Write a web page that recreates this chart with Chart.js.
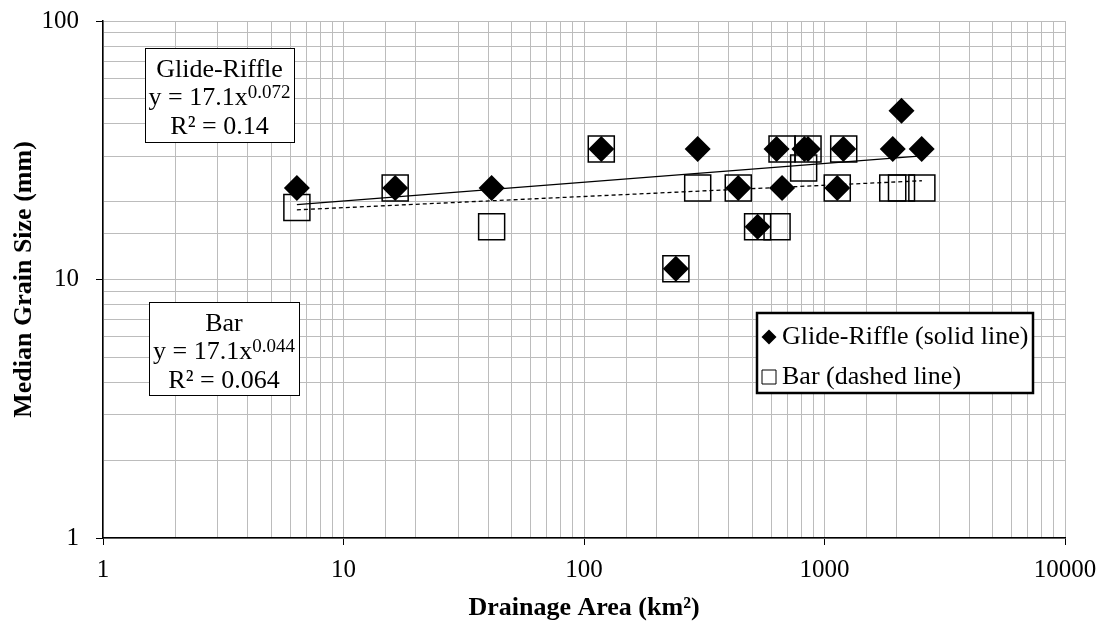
<!DOCTYPE html>
<html>
<head>
<meta charset="utf-8">
<script src="https://cdn.jsdelivr.net/npm/chart.js@4.4.1/dist/chart.umd.min.js"></script>
<style>
  body { margin: 0; background: #fff; }
  #wrap { width: 1110px; height: 621px; }
</style>
</head>
<body>
<div id="wrap"><canvas id="grafico-d50" width="1110" height="621"></canvas></div>
<script>
// Área de drenagem (km²) e D50 (mm) por tipo de unidade
const glideArea = [6.4, 16.4, 41.3, 118, 241, 297, 438, 527, 632, 666, 825, 854, 1130, 1198, 1922, 2090, 2536];
const glideD50  = [22.6, 22.6, 22.6, 32, 11, 32, 22.6, 16, 32, 22.6, 32, 32, 22.6, 32, 32, 45, 32];
const barArea   = [6.4, 16.4, 41.3, 118, 241, 297, 438, 527, 635, 666, 819, 854, 1130, 1202, 1922, 2090, 2540];
const barD50    = [19, 22.6, 16, 32, 11, 22.6, 22.6, 16, 16, 32, 27, 32, 22.6, 32, 22.6, 22.6, 22.6];

// linhas de tendência (extremos)
const fitArea  = [6.4, 2540];
const glideFit = [19.5, 30.1];
const barFit   = [18.6, 24.1];

// equações mostradas nas caixas
const glideEq = { nome: "Glide-Riffle", coef: "17.1", exp: "0.072", r2: "0.14" };
const barEq   = { nome: "Bar", coef: "17.1", exp: "0.044", r2: "0.064" };

const xTicks = [1, 10, 100, 1000, 10000];
const yTicks = [1, 10, 100];

const FONTE = "'Liberation Serif', 'Times New Roman', serif";

const pares = (xs, ys) => xs.map((x, i) => ({ x, y: ys[i] }));
const decada = (v, lista) => lista.some(t => Math.abs(t - v) < 1e-6 * t);

function caixaEquacao(ctx, b, eq) {
  ctx.save();
  ctx.fillStyle = "#fff";
  ctx.fillRect(b.x, b.y, b.w, b.h);
  ctx.strokeStyle = "#000";
  ctx.lineWidth = 1;
  ctx.strokeRect(b.x + 0.5, b.y + 0.5, b.w, b.h);

  const cx = b.x + b.w / 2;
  ctx.fillStyle = "#000";
  ctx.textBaseline = "alphabetic";
  ctx.font = "26px " + FONTE;
  ctx.textAlign = "center";
  ctx.fillText(eq.nome, cx, b.y + 29);
  ctx.fillText("R² = " + eq.r2, cx, b.y + 86);

  // y = a x^b com expoente sobrescrito
  const base = "y = " + eq.coef + "x";
  const w1 = ctx.measureText(base).width;
  ctx.font = "19px " + FONTE;
  const w2 = ctx.measureText(eq.exp).width;
  const x0 = cx - (w1 + w2) / 2;
  ctx.textAlign = "left";
  ctx.fillText(eq.exp, x0 + w1, b.y + 50);
  ctx.font = "26px " + FONTE;
  ctx.fillText(base, x0, b.y + 57);
  ctx.restore();
}

const caixas = {
  id: "caixas",
  afterDatasetsDraw(chart) {
    const ctx = chart.ctx;
    caixaEquacao(ctx, { x: 145, y: 48, w: 149, h: 94 }, glideEq);
    caixaEquacao(ctx, { x: 149, y: 302, w: 150, h: 93 }, barEq);

    // legenda
    const L = { x: 757, y: 313, w: 276, h: 80 };
    ctx.save();
    ctx.fillStyle = "#fff";
    ctx.fillRect(L.x, L.y, L.w, L.h);
    ctx.strokeStyle = "#000";
    ctx.lineWidth = 2.5;
    ctx.strokeRect(L.x, L.y, L.w, L.h);
    ctx.font = "26px " + FONTE;
    ctx.textAlign = "left";
    ctx.textBaseline = "middle";
    const itens = chart.data.datasets.filter(d => d.legenda);
    itens.forEach((d, i) => {
      const cy = L.y + 24 + i * 40;
      const mx = L.x + 12;
      ctx.beginPath();
      if (d.pointStyle === "rectRot") {
        ctx.moveTo(mx - 7.5, cy); ctx.lineTo(mx, cy - 7.5);
        ctx.lineTo(mx + 7.5, cy); ctx.lineTo(mx, cy + 7.5);
        ctx.closePath();
        ctx.fillStyle = "#000";
        ctx.fill();
      } else {
        ctx.rect(mx - 7, cy - 7, 14, 14);
        ctx.lineWidth = 1;
        ctx.strokeStyle = "#000";
        ctx.stroke();
      }
      ctx.fillStyle = "#000";
      ctx.fillText(d.legenda, L.x + 25, cy);
    });
    ctx.restore();
  }
};

new Chart(document.getElementById("grafico-d50").getContext("2d"), {
  type: "scatter",
  data: {
    datasets: [
      {
        label: "Glide-Riffle",
        legenda: "Glide-Riffle (solid line)",
        data: pares(glideArea, glideD50),
        pointStyle: "rectRot",
        pointRadius: 13,
        backgroundColor: "#000",
        borderColor: "#000",
        borderWidth: 0
      },
      {
        label: "Bar",
        legenda: "Bar (dashed line)",
        data: pares(barArea, barD50),
        pointStyle: "rect",
        pointRadius: 18.4,
        backgroundColor: "rgba(0,0,0,0)",
        borderColor: "#000",
        borderWidth: 1.5
      },
      {
        label: "Glide-Riffle fit",
        data: pares(fitArea, glideFit),
        showLine: true,
        pointRadius: 0,
        borderColor: "#000",
        borderWidth: 1.3
      },
      {
        label: "Bar fit",
        data: pares(fitArea, barFit),
        showLine: true,
        pointRadius: 0,
        borderColor: "#000",
        borderWidth: 1.3,
        borderDash: [4, 3]
      }
    ]
  },
  options: {
    responsive: false,
    animation: false,
    devicePixelRatio: 1,
    layout: { padding: { top: 21, right: 45, left: 0, bottom: 0 } },
    plugins: {
      legend: { display: false },
      tooltip: { enabled: false }
    },
    scales: {
      x: {
        type: "logarithmic",
        min: xTicks[0],
        max: xTicks[xTicks.length - 1],
        afterFit: s => { s.height = 83; s.paddingLeft = 0; s.paddingRight = 0; },
        border: { display: true, color: "#000", width: 1.5 },
        grid: {
          color: "#bcbcbc",
          lineWidth: 1,
          tickLength: 7,
          tickColor: c => decada(c.tick.value, xTicks) ? "#000" : "rgba(0,0,0,0)"
        },
        ticks: {
          autoSkip: false,
          maxRotation: 0,
          padding: 10,
          color: "#000",
          font: { family: FONTE, size: 25 },
          callback: v => decada(v, xTicks) ? String(v) : ""
        },
        title: {
          display: true,
          text: "Drainage Area (km²)",
          color: "#000",
          font: { family: FONTE, size: 26, weight: "bold", lineHeight: 1 },
          padding: { top: 0, bottom: 0 }
        }
      },
      y: {
        type: "logarithmic",
        min: yTicks[0],
        max: yTicks[yTicks.length - 1],
        // sem folga extra para os rótulos das pontas
        afterFit: s => { s.width = 103; s.paddingTop = 0; s.paddingBottom = 0; },
        border: { display: true, color: "#000", width: 1.5 },
        grid: {
          color: "#bcbcbc",
          lineWidth: 1,
          tickLength: 7,
          tickColor: c => decada(c.tick.value, yTicks) ? "#000" : "rgba(0,0,0,0)"
        },
        ticks: {
          autoSkip: false,
          padding: 17,
          color: "#000",
          font: { family: FONTE, size: 25 },
          callback: v => decada(v, yTicks) ? String(v) : ""
        },
        title: {
          display: true,
          text: "Median Grain Size (mm)",
          color: "#000",
          font: { family: FONTE, size: 26, weight: "bold", lineHeight: 1 },
          padding: { top: 11, bottom: 0 }
        }
      }
    }
  },
  plugins: [caixas]
});
</script>
</body>
</html>
